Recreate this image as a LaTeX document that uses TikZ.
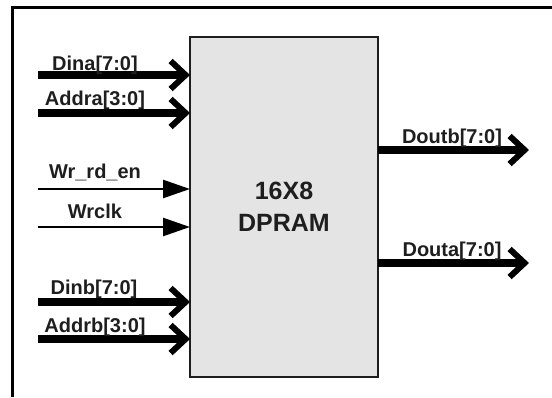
\documentclass[tikz,border=0pt]{standalone}
\usepackage{fontspec}
\setmainfont{Liberation Sans}
\usetikzlibrary{arrows.meta, positioning, calc}
\definecolor{ramfill}{HTML}{E4E4E4}
\definecolor{ink}{HTML}{1E1E1E}

\begin{document}
\begin{tikzpicture}[x=1pt, y=-1pt,
    bus/.style={line width=8.5pt, -{Straight Barb[length=15pt, width=28pt, line width=6pt]}},
    wire/.style={line width=2.5pt, -{Triangle[length=27pt, width=18pt]}},
    lbl/.style={anchor=base, inner sep=0pt, text=ink, font=\fontsize{20}{24}\selectfont\bfseries}]
    \useasboundingbox (0,0) rectangle (552,397);
    \draw[line width=3pt] (12,397) -- (12,7) -- (552,7);
    \node[draw=ink, fill=ramfill, line width=1.5pt, minimum width=188pt, minimum height=340pt,
          inner sep=0pt, outer sep=0pt, align=center, text=ink,
          font=\fontsize{25}{32}\selectfont\bfseries] (ram) at (284,207) {16X8\\DPRAM};
    % inputs
    \coordinate (dina) at (38,75);
    \coordinate (addra) at (38,113);
    \coordinate (wren) at (38,189);
    \coordinate (wrclk) at (38,227);
    \coordinate (dinb) at (38,302);
    \coordinate (addrb) at (38,339);
    \draw[bus] (dina) -- (dina -| ram.west);
    \draw[bus] (addra) -- (addra -| ram.west);
    \draw[wire] (wren) -- (wren -| ram.west);
    \draw[wire] (wrclk) -- (wrclk -| ram.west);
    \draw[bus] (dinb) -- (dinb -| ram.west);
    \draw[bus] (addrb) -- (addrb -| ram.west);
    \node[lbl] (dinalbl) at (95,70) {Dina[7:0]};
    \node[lbl] (addralbl) at (95,105) {Addra[3:0]};
    \node[lbl] (wrenlbl) at (95,178) {Wr\_rd\_en};
    \node[lbl] (wrclklbl) at (95,218) {Wrclk};
    \node[lbl] (dinblbl) at (94,294) {Dinb[7:0]};
    \node[lbl] (addrblbl) at (95,332) {Addrb[3:0]};
    % outputs
    \coordinate (doutb) at (529,150);
    \coordinate (douta) at (529,263);
    \draw[bus] (doutb -| ram.east) -- (doutb);
    \draw[bus] (douta -| ram.east) -- (douta);
    \node[lbl] (doutblbl) at (452,143) {Doutb[7:0]};
    \node[lbl] (doutalbl) at (452,256) {Douta[7:0]};
\end{tikzpicture}
\end{document}
